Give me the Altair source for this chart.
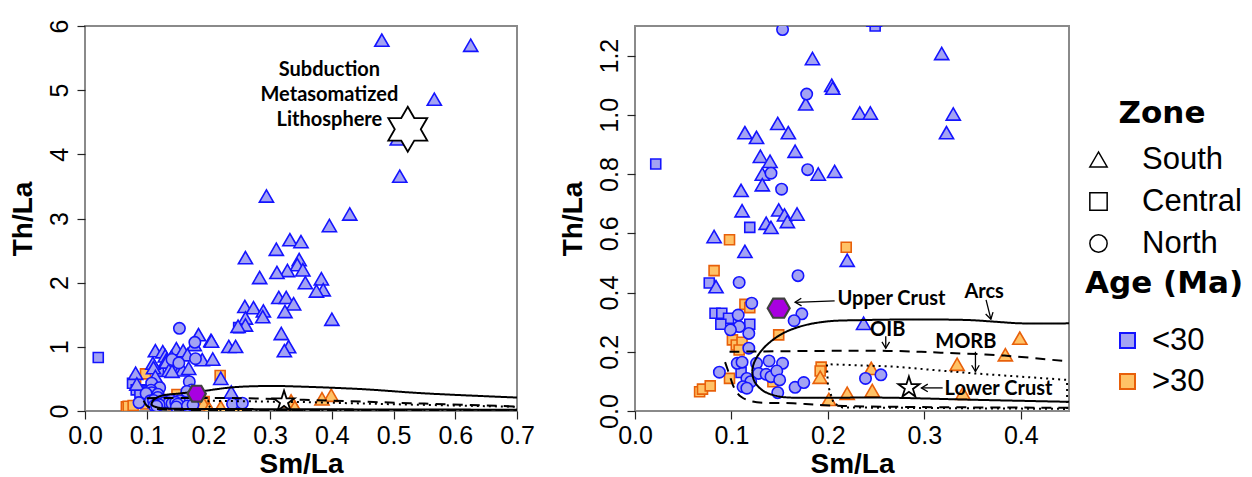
import math
import altair as alt
import pandas as pd

# ---------------- sample data (Sm/La, Th/La) ----------------
# South, Age < 30 Ma
south_young_x = [0.184, 0.318, 0.204, 0.205, 0.177, 0.233, 0.244, 0.330, 0.323, 0.114,
                 0.126, 0.148, 0.159, 0.166, 0.130, 0.140, 0.132, 0.190, 0.207, 0.132,
                 0.110, 0.111, 0.149, 0.155, 0.158, 0.168, 0.136, 0.141, 0.082, 0.114,
                 0.220, 0.084, 0.237,
                 0.481, 0.625, 0.566, 0.506, 0.510, 0.294, 0.429, 0.396, 0.332, 0.350,
                 0.310, 0.260, 0.347, 0.344, 0.353, 0.328, 0.311, 0.283, 0.383, 0.357,
                 0.386, 0.375, 0.314, 0.326, 0.338, 0.259, 0.273, 0.289, 0.288, 0.324,
                 0.400, 0.260, 0.260, 0.248]
south_young_y = [1.19, 1.207, 1.10, 1.09, 1.037, 1.006, 1.006, 1.003, 0.94, 0.94,
                 0.924, 0.971, 0.94, 0.877, 0.86, 0.843, 0.80, 0.80, 0.809, 0.764,
                 0.745, 0.676, 0.679, 0.662, 0.64, 0.665, 0.634, 0.62, 0.589, 0.539,
                 0.509, 0.42, 0.296,
                 5.78, 5.70, 4.86, 4.24, 3.66, 3.35, 3.07, 2.89, 2.67, 2.64,
                 2.52, 2.39, 2.36, 2.28, 2.20, 2.19, 2.16, 2.08, 2.06, 2.00,
                 1.89, 1.87, 1.77, 1.77, 1.67, 1.63, 1.61, 1.56, 1.47, 1.55,
                 1.43, 1.45, 1.34, 1.32]
# North, Age < 30 Ma
north_young_x = [0.153, 0.178, 0.179, 0.141, 0.152, 0.169, 0.108, 0.121, 0.173, 0.165,
                 0.107, 0.108, 0.099, 0.118, 0.118, 0.0875, 0.106, 0.111, 0.126, 0.139,
                 0.153, 0.128, 0.136, 0.141, 0.147, 0.150, 0.116, 0.120, 0.112, 0.116,
                 0.148, 0.166, 0.175, 0.239, 0.255]
north_young_y = [1.288, 1.07, 0.815, 0.803, 0.749, 0.457, 0.434, 0.364, 0.328, 0.305,
                 0.324, 0.285, 0.274, 0.262, 0.212, 0.131, 0.161, 0.165, 0.161, 0.169,
                 0.161, 0.127, 0.124, 0.116, 0.135, 0.105, 0.11, 0.099, 0.082, 0.077,
                 0.062, 0.080, 0.096, 0.11, 0.122]
# Central, Age < 30 Ma
central_young_x = [0.0215, 0.249, 0.119, 0.077, 0.083, 0.090, 0.097, 0.089, 0.119, 0.110]
central_young_y = [0.834, 1.30, 0.62, 0.432, 0.33, 0.33, 0.313, 0.293, 0.293, 0.13]
# Central, Age > 30 Ma
central_old_x = [0.098, 0.219, 0.082, 0.114, 0.119, 0.149, 0.101, 0.105, 0.111, 0.108,
                 0.098, 0.067, 0.070, 0.078, 0.193, 0.192, 0.143]
central_old_y = [0.578, 0.553, 0.474, 0.36, 0.349, 0.257, 0.24, 0.223, 0.232, 0.206,
                 0.11, 0.065, 0.074, 0.085, 0.148, 0.135, 0.099]
# South, Age > 30 Ma
south_old_x = [0.399, 0.384, 0.334, 0.245, 0.192, 0.201, 0.220, 0.246, 0.340]
south_old_y = [0.246, 0.19, 0.158, 0.144, 0.114, 0.039, 0.06, 0.069, 0.06]

zones = ["South", "Central", "North"]
ages = ["<30", ">30"]

# ---------------- reference fields (curves) ----------------
# right panel
arcs_r_x = [0.45, 0.35, 0.261, 0.20, 0.157, 0.1465, 0.133, 0.124, 0.1216, 0.124,
            0.133, 0.150, 0.171, 0.198, 0.236, 0.295, 0.347, 0.371, 0.40, 0.45]
arcs_r_y = [0.031, 0.038, 0.045, 0.045, 0.046, 0.051, 0.068, 0.099, 0.133, 0.167,
            0.211, 0.256, 0.285, 0.302, 0.307, 0.309, 0.307, 0.302, 0.296, 0.296]
oib_up_r_x = [0.098, 0.261, 0.317, 0.383, 0.45]
oib_up_r_y = [0.2, 0.203, 0.197, 0.187, 0.167]
oib_lo_r_x = [0.0934, 0.098, 0.103, 0.110, 0.122, 0.164, 0.216, 0.45]
oib_lo_r_y = [0.165, 0.122, 0.077, 0.048, 0.032, 0.026, 0.017, 0.011]
morb_r_x = [0.448, 0.448, 0.351, 0.268, 0.199, 0.200, 0.206, 0.215, 0.448]
morb_r_y = [0.007, 0.105, 0.127, 0.150, 0.158, 0.088, 0.026, 0.012, 0.007]
# left panel
arcs_l_x = [0.70, 0.45, 0.25, 0.15, 0.12, 0.108, 0.112, 0.125, 0.15, 0.19,
            0.24, 0.30, 0.35, 0.45, 0.55, 0.70]
arcs_l_y = [0.02, 0.025, 0.03, 0.035, 0.05, 0.1, 0.18, 0.24, 0.27, 0.31,
            0.37, 0.39, 0.38, 0.34, 0.275, 0.21]
oib_up_l_x = [0.10, 0.25, 0.40, 0.55, 0.70]
oib_up_l_y = [0.2, 0.2, 0.16, 0.115, 0.07]
oib_lo_l_x = [0.095, 0.10, 0.11, 0.13, 0.2, 0.7]
oib_lo_l_y = [0.16, 0.08, 0.04, 0.025, 0.015, 0.012]
morb_l_x = [0.7, 0.7, 0.5, 0.35, 0.2, 0.2, 0.21, 0.7]
morb_l_y = [0.005, 0.065, 0.105, 0.14, 0.16, 0.08, 0.012, 0.005]

# reference compositions
upper_crust_r = (0.149, 0.347)
lower_crust_r = (0.284, 0.079)
upper_crust_l = (0.181, 0.27)
lower_crust_l = (0.3225, 0.145)
sml_l = (0.523, 4.39)

# annotations
right_labels = ["Upper Crust", "Arcs", "OIB", "MORB", "Lower Crust"]
right_label_x = [0.210, 0.362, 0.262, 0.343, 0.321]
right_label_y = [0.379, 0.403, 0.274, 0.232, 0.074]
right_label_align = ["left", "center", "center", "center", "left"]
left_labels = ["Subduction", "Metasomatized", "Lithosphere"]
left_label_x = [0.396, 0.396, 0.396]
left_label_y = [5.32, 4.93, 4.54]

arrow_x1 = [0.207, 0.364, 0.260, 0.353, 0.319]
arrow_y1 = [0.372, 0.375, 0.252, 0.200, 0.078]
arrow_x2 = [0.166, 0.369, 0.260, 0.353, 0.297]
arrow_y2 = [0.367, 0.310, 0.212, 0.133, 0.078]

# ---------------- build tables ----------------
rows = []
def add(xs, ys, zone, age):
    for x, y in zip(xs, ys):
        rows.append({"sm_la": x, "th_la": y, "zone": zone, "age": age})

add(south_old_x, south_old_y, "South", ">30")
add(central_old_x, central_old_y, "Central", ">30")
add(south_young_x, south_young_y, "South", "<30")
add(central_young_x, central_young_y, "Central", "<30")
add(north_young_x, north_young_y, "North", "<30")
samples = pd.DataFrame(rows)

def curves(parts):
    out = []
    for name, xs, ys in parts:
        for i, (x, y) in enumerate(zip(xs, ys)):
            out.append({"seg": name, "i": i, "sm_la": x, "th_la": y})
    return pd.DataFrame(out)

RX, RY = 963.75, 296.0
arrows = pd.DataFrame({"sm_la": arrow_x1, "th_la": arrow_y1, "sm_la2": arrow_x2, "th_la2": arrow_y2})
arrow_heads = pd.DataFrame({
    "sm_la": arrow_x2, "th_la": arrow_y2,
    "ang": [math.degrees(math.atan2((y2 - y1) * RY, -(x2 - x1) * RX)) % 360
            for x1, y1, x2, y2 in zip(arrow_x1, arrow_y1, arrow_x2, arrow_y2)],
})

# ---------------- styles ----------------
HEX = "M -1 0 L -0.5 -0.866 L 0.5 -0.866 L 1 0 L 0.5 0.866 L -0.5 0.866 Z"
STAR5 = ("M 0 -1 L 0.2245 -0.309 L 0.951 -0.309 L 0.3633 0.118 L 0.5878 0.809 "
         "L 0 0.382 L -0.5878 0.809 L -0.3633 0.118 L -0.951 -0.309 L -0.2245 -0.309 Z")
STAR6 = ("M 0 -1 L 0.2887 -0.5 L 0.866 -0.5 L 0.577 0 L 0.866 0.5 L 0.2887 0.5 "
         "L 0 1 L -0.2887 0.5 L -0.866 0.5 L -0.577 0 L -0.866 -0.5 L -0.2887 -0.5 Z")
ARROW = "M 1 -0.6 L 0 0 L 1 0.6"

shape_scale = alt.Scale(domain=zones, range=["triangle-up", "square", "circle"])
fill_scale = alt.Scale(domain=ages, range=["#a3a3f3", "#ffc266"])
stroke_scale = alt.Scale(domain=ages, range=["#1414ff", "#e8600a"])
zone_marker_size = {"Central": 100, "South": 200, "North": 130}

zone_legend = alt.Legend(
    title="Zone", orient="none", legendX=998, legendY=73, padding=0,
    titleFont="DejaVu Sans", titleFontSize=31, titleFontWeight="bold", titleColor="black",
    titleAnchor="middle", titlePadding=14,
    labelFont="Liberation Sans", labelFontSize=31, labelColor="black", labelOffset=28,
    symbolSize=300, symbolFillColor="white", symbolStrokeColor="black",
    symbolStrokeWidth=1.5, rowPadding=10,
)
age_legend = alt.Legend(
    title="Age (Ma)", orient="none", legendX=1000, legendY=243, padding=0,
    titleFont="DejaVu Sans", titleFontSize=31, titleFontWeight="bold", titleColor="black",
    titleAnchor="start", titlePadding=25,
    labelFont="Liberation Sans", labelFontSize=31, labelColor="black", labelOffset=9,
    symbolType="square", symbolSize=225, symbolStrokeWidth=2, symbolOffset=27, rowPadding=9,
)


def panel(xmax, ymax, xticks, yticks, yfmt, curve_df, uc, lc, lc_shape, lc_size,
          extra_layers, width, height):
    xs = alt.Scale(domain=[0, xmax], nice=False, zero=True)
    ys = alt.Scale(domain=[0, ymax], nice=False, zero=True)
    xax = alt.Axis(values=xticks, format=".1f", title="Sm/La")
    yax = alt.Axis(values=yticks, format=yfmt, title="Th/La")
    X = lambda: alt.X("sm_la:Q", scale=xs, axis=xax)
    Y = lambda: alt.Y("th_la:Q", scale=ys, axis=yax)

    layers = []
    for zone, msize in zone_marker_size.items():
        layers.append(
            alt.Chart(samples).transform_filter(f"datum.zone == '{zone}'").mark_point(
                filled=True, opacity=1, strokeWidth=1.6, size=msize, clip=True).encode(
                x=X(), y=Y(),
                shape=alt.Shape("zone:N", scale=shape_scale, legend=zone_legend),
                fill=alt.Fill("age:N", scale=fill_scale, legend=age_legend),
                stroke=alt.Stroke("age:N", scale=stroke_scale, legend=age_legend),
            )
        )
    for segs, dash, interp in curve_df:
        layers.append(
            alt.Chart(segs).mark_line(color="black", strokeWidth=2, strokeDash=dash,
                                      interpolate=interp, clip=True).encode(
                x=X(), y=Y(), order="i:Q", detail="seg:N")
        )
    hexdf = pd.DataFrame({"sm_la": [uc[0]], "th_la": [uc[1]]})
    layers.append(alt.Chart(hexdf).mark_point(
        shape=HEX, filled=True, fill="#a800e0", stroke="#404040", strokeWidth=2.2,
        size=uc[2], opacity=1, clip=True).encode(x=X(), y=Y()))
    for (sx, sy), shp, sz in zip(lc, lc_shape, lc_size):
        sdf = pd.DataFrame({"sm_la": [sx], "th_la": [sy]})
        layers.append(alt.Chart(sdf).mark_point(
            shape=shp, filled=True, fill="white", stroke="black", strokeWidth=1.8,
            size=sz, opacity=1, clip=True).encode(x=X(), y=Y()))
    for f in extra_layers:
        layers.append(f(X, Y))
    return alt.layer(*layers).properties(width=width, height=height)


right_text_df = pd.DataFrame({"label": right_labels, "sm_la": right_label_x,
                              "th_la": right_label_y, "al": right_label_align})
left_text_df = pd.DataFrame({"label": left_labels, "sm_la": left_label_x, "th_la": left_label_y})

TXT = dict(font="Lato", fontWeight="bold", fontSize=20, color="black", baseline="middle")

def right_extras():
    return [
        lambda X, Y: alt.Chart(arrows).mark_rule(color="black", strokeWidth=1.3).encode(
            x=X(), y=Y(), x2="sm_la2:Q", y2="th_la2:Q"),
        lambda X, Y: alt.Chart(arrow_heads).mark_point(
            shape=ARROW, filled=False, stroke="black", strokeWidth=1.3, size=160, opacity=1).encode(
            x=X(), y=Y(), angle=alt.Angle("ang:Q", scale=None)),
        lambda X, Y: alt.Chart(right_text_df).transform_filter("datum.al == 'left'").mark_text(
            align="left", **TXT).encode(x=X(), y=Y(), text="label:N"),
        lambda X, Y: alt.Chart(right_text_df).transform_filter("datum.al == 'center'").mark_text(
            align="center", **TXT).encode(x=X(), y=Y(), text="label:N"),
    ]

def left_extras():
    return [
        lambda X, Y: alt.Chart(left_text_df).mark_text(align="center", **TXT).encode(
            x=X(), y=Y(), text="label:N"),
    ]

left_curves = [
    (curves([("arcs", arcs_l_x, arcs_l_y)]), [1, 0], "catmull-rom"),
    (curves([("oibu", oib_up_l_x, oib_up_l_y), ("oibl", oib_lo_l_x, oib_lo_l_y)]), [10, 7], "catmull-rom"),
    (curves([("morb", morb_l_x, morb_l_y)]), [2, 4], "linear"),
]
right_curves = [
    (curves([("arcs", arcs_r_x, arcs_r_y)]), [1, 0], "catmull-rom"),
    (curves([("oibu", oib_up_r_x, oib_up_r_y), ("oibl", oib_lo_r_x, oib_lo_r_y)]), [10, 7], "catmull-rom"),
    (curves([("morb", morb_r_x, morb_r_y)]), [2, 4], "linear"),
]

left = panel(0.7, 6, [0, 0.1, 0.2, 0.3, 0.4, 0.5, 0.6, 0.7], [0, 1, 2, 3, 4, 5, 6], "d",
             left_curves, (upper_crust_l[0], upper_crust_l[1], 335),
             [lower_crust_l, sml_l], [STAR5, STAR6], [490, 2025], left_extras(), 432, 385)
right = panel(0.45, 1.3, [0, 0.1, 0.2, 0.3, 0.4], [0, 0.2, 0.4, 0.6, 0.8, 1.0, 1.2], ".1f",
              right_curves, (upper_crust_r[0], upper_crust_r[1], 484),
              [lower_crust_r], [STAR5], [490], right_extras(), 434, 385)

chart = alt.hconcat(left, right, spacing=118, bounds="flush").properties(
    padding={"left": 8, "top": 18, "right": 0, "bottom": 0}
).configure_view(
    stroke="#8a8a8a", strokeWidth=2
).configure_axis(
    domain=False, grid=False, ticks=True, tickColor="#222222", tickSize=8, tickWidth=1.2,
    labelFont="Liberation Sans", labelFontSize=25, labelColor="black", labelFlush=False,
    titleFont="Liberation Sans", titleFontSize=28, titleFontWeight="bold", titleColor="black",
).configure_axisX(
    labelPadding=4, titlePadding=2,
).configure_axisY(
    labelAngle=270, labelAlign="center", labelBaseline="bottom", labelPadding=5, titlePadding=10,
)

chart.save("out.html", embed_options={"renderer": "svg", "actions": False})
